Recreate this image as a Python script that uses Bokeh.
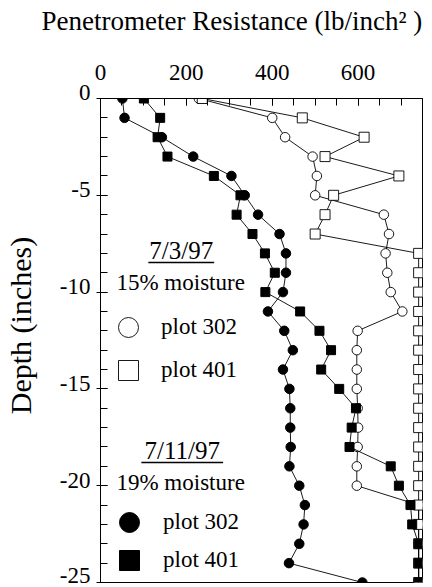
from bokeh.plotting import figure
from bokeh.models import (Range1d, FixedTicker, Label, Legend, LegendItem,
                          BoxAnnotation)
from bokeh.embed import file_html
from bokeh.resources import INLINE

# ---------------- data ----------------
depth = [0, -1, -2, -3, -4, -5, -6, -7, -8, -9, -10, -11, -12, -13, -14,
         -15, -16, -17, -18, -19, -20, -21, -22, -23, -24, -25]

# 7/3/97 (15% moisture)
jul3_plot302 = [229, 400, 430, 494, 504, 500, 660, 672, 664, 668, 676, 703, 599,
                597, 597, 597, 599, 600, 599, 597, 597, 741, 741, 741, 741, 741]
jul3_plot401 = [237, 470, 614, 523, 695, 543, 523, 500, 741, 741, 741, 741, 741,
                741, 741, 741, 741, 741, 741, 741, 741, 741, 741, 741, 741, 741]
# 7/11/97 (19% moisture)
jul11_plot302 = [51, 56, 143, 216, 305, 336, 367, 417, 432, 432, 425, 390, 428,
                 448, 425, 440, 442, 442, 443, 440, 463, 476, 473, 463, 439, 610]
jul11_plot401 = [101, 139, 133, 156, 264, 326, 317, 354, 383, 406, 384, 465, 510,
                 537, 514, 556, 595, 585, 580, 676, 695, 722, 726, 741, 741, 741]

x_ticks = [0, 200, 400, 600]
x_tick_labels = ["0", "200", "400", "600"]
x_minor = list(range(0, 751, 50))
y_ticks = [0, -5, -10, -15, -20, -25]
y_tick_labels = ["0", "-5", "-10", "-15", "-20", "-25"]
y_minor = list(range(-25, 1))

x_title = "Penetrometer Resistance (lb/inch\u00b2 )"
y_title = "Depth (inches)"

X_MAX = 750
Y_MIN = -25

# ---------------- layout ----------------
W, H = 432, 587
FL, FR, FT, FB = 99, 10, 98, 5
fw = W - FL - FR
fh = H - FT - FB

def dx(px):
    return (px - FL) / fw * X_MAX

def dy(py):
    return (py - FT) / fh * Y_MIN

SERIF = "Liberation Serif"
NB = "\u00a0"

p = figure(width=W, height=H, x_range=Range1d(0, X_MAX), y_range=Range1d(Y_MIN, 0),
           x_axis_location="above", output_backend="svg", toolbar_location=None,
           min_border_left=FL, min_border_right=FR, min_border_top=FT,
           min_border_bottom=FB)
p.grid.visible = False
p.outline_line_color = "black"
p.outline_line_width = 1
p.background_fill_color = "white"
p.border_fill_color = "white"

# trailing empty (short) line lifts the title towards the top of the canvas
p.title.text = x_title + "\n"
p.title.text_line_height = 0.76
p.title.align = "left"
p.title.offset = 40 - FL
p.title.text_font = SERIF
p.title.text_font_size = "27px"
p.title.text_font_style = "normal"
p.title.text_color = "black"
p.title.standoff = 6

xa = p.xaxis[0]
xa.ticker = FixedTicker(ticks=x_ticks, minor_ticks=x_minor)
xa.major_label_overrides = {t: l for t, l in zip(x_ticks, x_tick_labels)}
xa.major_tick_in = 7
xa.major_tick_out = 0
xa.minor_tick_in = 7
xa.minor_tick_out = 0
xa.major_label_standoff = 19
xa.major_label_text_font = SERIF
xa.major_label_text_font_size = "23px"
xa.major_label_text_color = "black"
xa.axis_line_color = "black"
xa.major_tick_line_color = "black"
xa.minor_tick_line_color = "black"

ya = p.yaxis[0]
ya.ticker = FixedTicker(ticks=y_ticks, minor_ticks=y_minor)
# a trailing empty line lifts each label slightly above its tick, as in the reference;
# the bottom label is left single-line so that it stays on the canvas
ya.major_label_overrides = {t: (l + "\n" if t != Y_MIN else l)
                            for t, l in zip(y_ticks, y_tick_labels)}
ya.major_label_text_line_height = 0.45
ya.major_tick_in = 7
ya.major_tick_out = 4
ya.minor_tick_in = 7
ya.minor_tick_out = 0
ya.major_label_standoff = 6
ya.major_label_text_font = SERIF
ya.major_label_text_font_size = "23px"
ya.major_label_text_color = "black"
ya.axis_line_color = "black"
ya.major_tick_line_color = "black"
ya.minor_tick_line_color = "black"
ya.axis_label = NB * 4 + y_title
ya.axis_label_text_font = SERIF
ya.axis_label_text_font_size = "30px"
ya.axis_label_text_font_style = "normal"
ya.axis_label_text_color = "black"
ya.axis_label_standoff = 20

# ---------------- series ----------------
LW = 0.9
p.line(jul3_plot302, depth, line_color="black", line_width=LW)
r_o302 = p.scatter(jul3_plot302, depth, marker="circle", size=9.5,
                   fill_color="white", line_color="black", line_width=0.9)
p.line(jul3_plot401, depth, line_color="black", line_width=LW)
r_o401 = p.scatter(jul3_plot401, depth, marker="square", size=10,
                   fill_color="white", line_color="black", line_width=0.9)
p.line(jul11_plot302, depth, line_color="black", line_width=LW)
r_f302 = p.scatter(jul11_plot302, depth, marker="circle", size=9.5,
                   fill_color="black", line_color="black")
p.line(jul11_plot401, depth, line_color="black", line_width=LW)
r_f401 = p.scatter(jul11_plot401, depth, marker="square", size=9,
                   fill_color="black", line_color="black")

# ---------------- legends (one item each, for free placement) ----------------
def legend_item(renderer, label, cx, cy, standoff):
    leg = Legend(items=[LegendItem(label=label, renderers=[renderer])],
                 location=(cx - 25 - FL, (H - FB) - (cy + 25)),
                 glyph_width=50, glyph_height=50, padding=0, margin=0,
                 spacing=0, label_standoff=standoff,
                 label_text_font=SERIF, label_text_font_size="23px",
                 label_text_color="black", label_height=20,
                 border_line_color=None, background_fill_alpha=0)
    p.add_layout(leg)

legend_item(r_o302, "plot 302", 127, 326.5, 8)
legend_item(r_o401, "plot 401", 127, 370, 8)
legend_item(r_f302, "plot 302", 128, 522, 9)
legend_item(r_f401, "plot 401", 128, 560, 9)

def text(px, py, s, size, align="left"):
    p.add_layout(Label(x=dx(px), y=dy(py), text=s, text_font=SERIF,
                       text_font_size=size, text_color="black",
                       text_align=align, text_baseline="middle"))

def underline(x0, x1, py):
    p.add_layout(BoxAnnotation(left=dx(x0), right=dx(x1), top=dy(py - 0.8),
                               bottom=dy(py + 0.8), fill_color="black",
                               fill_alpha=1, line_alpha=0, level="overlay"))

text(180, 250, "7/3/97", "25px", "center")
underline(147, 213, 262)
text(115, 281.5, "15% moisture", "23px")
text(181, 450, "7/11/97", "25px", "center")
underline(140, 222, 462)
text(115, 482, "19% moisture", "23px")

open("out.html", "w").write(file_html(p, INLINE))
